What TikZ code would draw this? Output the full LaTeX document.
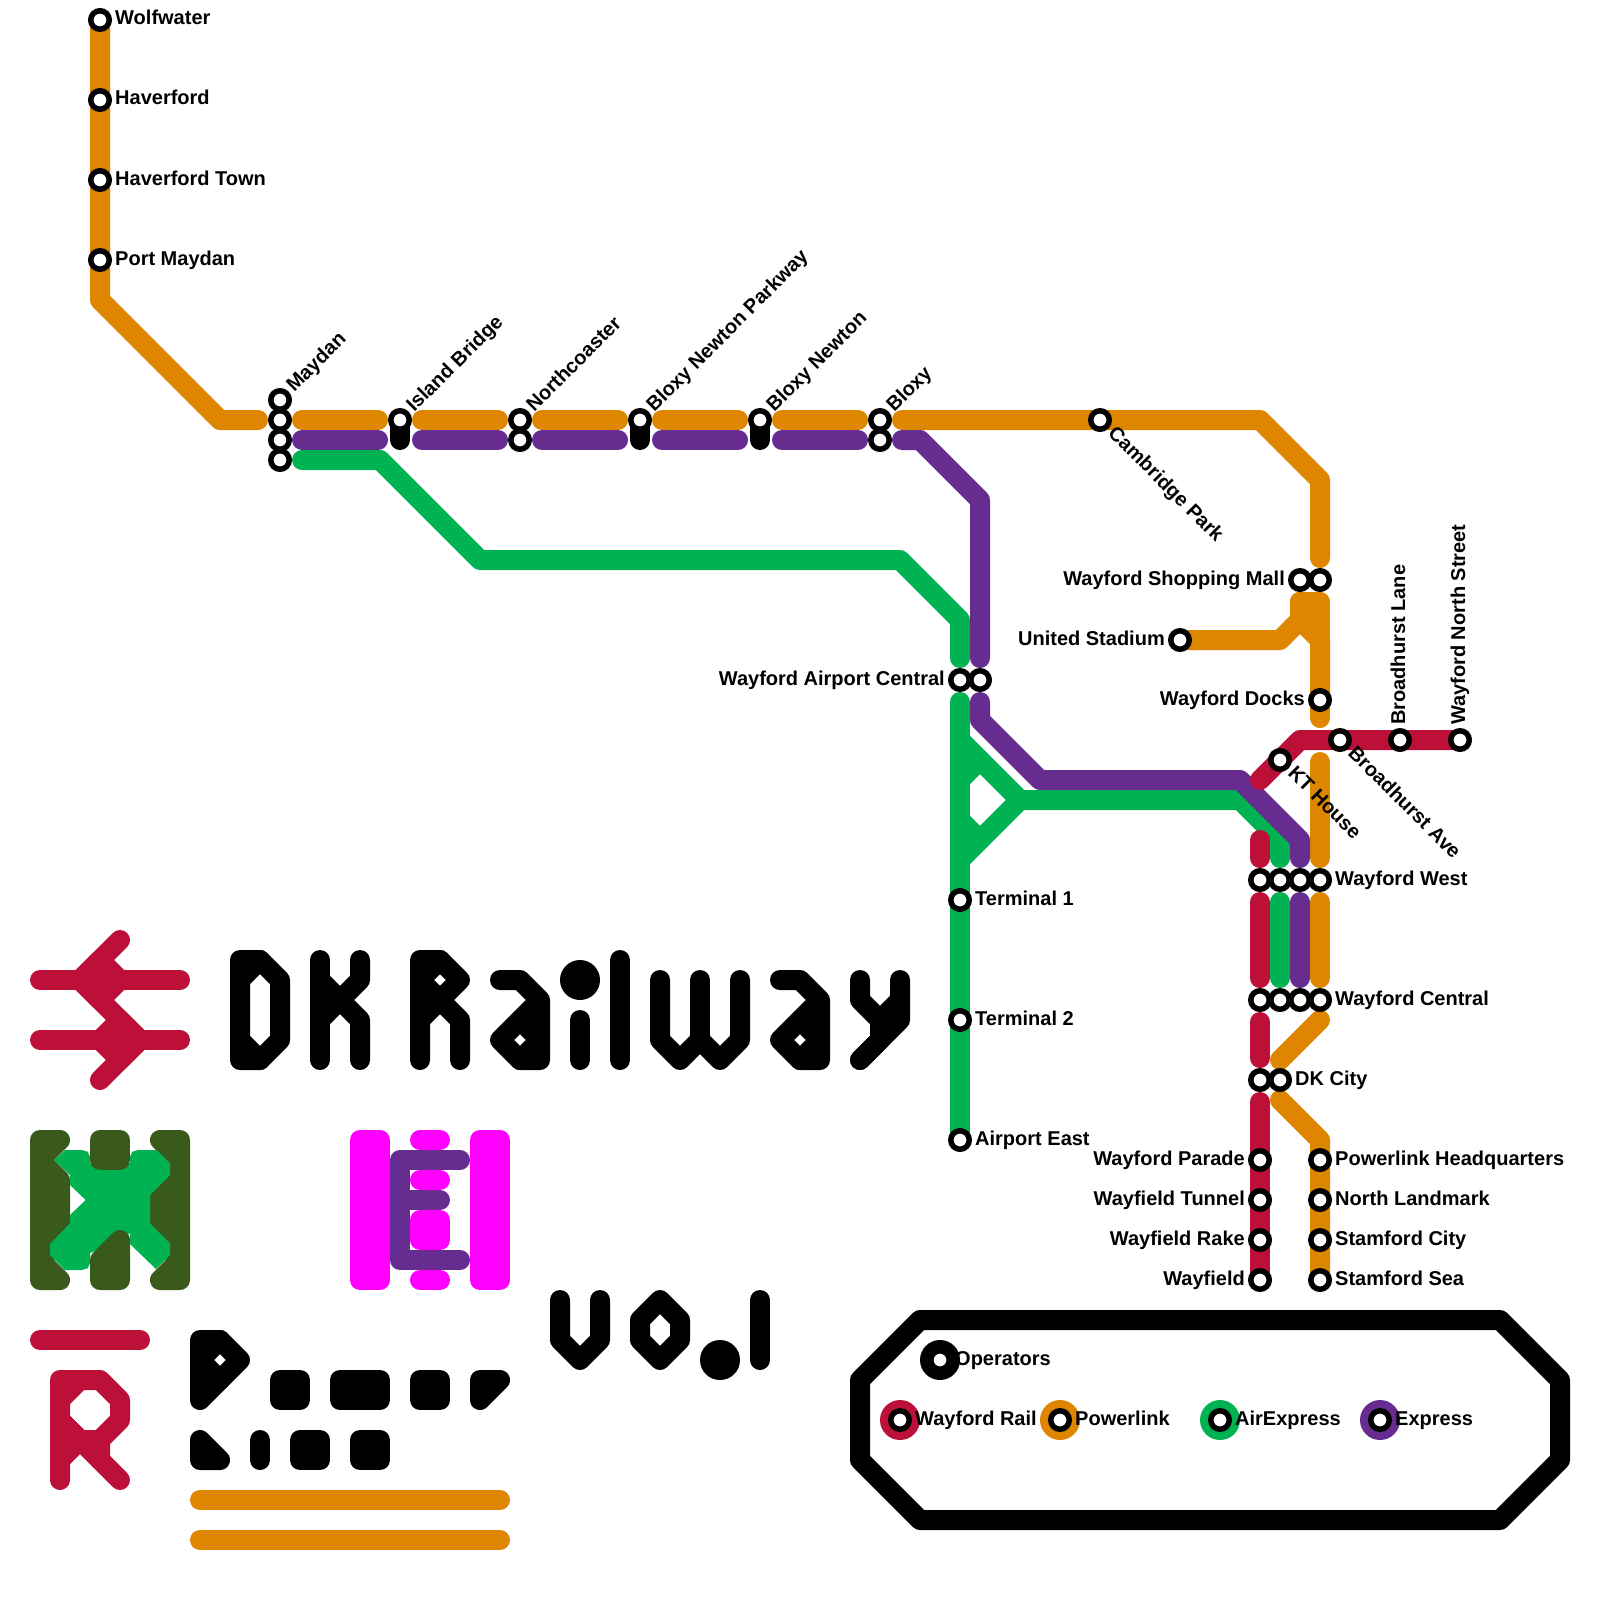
\documentclass[tikz,border=0pt]{standalone}
\usepackage{fontspec}
\setmainfont{Liberation Sans}
\usetikzlibrary{backgrounds}
\definecolor{rd}{HTML}{BD1038}
\definecolor{og}{HTML}{DF8600}
\definecolor{gn}{HTML}{00B251}
\definecolor{pu}{HTML}{662C90}
\definecolor{dg}{HTML}{3A5A1C}
\definecolor{mg}{HTML}{FF00FF}
\tikzset{
  x=20pt,y=-20pt,
  stn/.style={circle,draw=black,fill=white,line width=5.5pt,minimum size=18.5pt,inner sep=0pt,outer sep=0pt},
  txt/.style={font=\bfseries\fontsize{20}{24}\selectfont,inner sep=0pt,text=black},
  lr/.style={txt,anchor=base west,xshift=15pt,yshift=-5pt},
  ll/.style={txt,anchor=base east,xshift=-15pt,yshift=-5pt},
  lup/.style={txt,anchor=base west,rotate=45,xshift=15pt,yshift=-5pt},
  ldn/.style={txt,anchor=base west,rotate=-45,xshift=15pt,yshift=-5pt},
  lvt/.style={txt,anchor=base west,rotate=90,xshift=15pt,yshift=-5pt},
  ln/.style={line width=20pt,line cap=round,line join=round},
  sa/.style={shorten <=22pt},
  sb/.style={shorten >=22pt},
  sab/.style={shorten <=22pt,shorten >=22pt},
  legdot/.style={circle,fill=#1,minimum size=40pt,inner sep=0pt,outer sep=0pt},
}
\begin{document}
\begin{tikzpicture}
\useasboundingbox (0,0) rectangle (80,80);
% stations
\node[stn] (wolf) at (5,1) {};
\node[stn] (hav) at (5,5) {};
\node[stn] (havt) at (5,9) {};
\node[stn] (port) at (5,13) {};
\node[stn] (may1) at (14,20) {};
\node[stn] (may2) at (14,21) {};
\node[stn] (may3) at (14,22) {};
\node[stn] (may4) at (14,23) {};
\coordinate (isl2) at (20,22);
\coordinate (bnp2) at (32,22);
\coordinate (bn2) at (38,22);
\coordinate (cross) at (66,37);
\begin{scope}[on background layer]
\fill[white] (0,0) rectangle (80,80);
\draw[ln,black] (isl2) -- (20,21);
\draw[ln,black] (bnp2) -- (32,21);
\draw[ln,black] (bn2) -- (38,21);
\end{scope}
\node[stn] (isl) at (20,21) {};
\node[stn] (nor1) at (26,21) {};
\node[stn] (nor2) at (26,22) {};
\node[stn] (bnp) at (32,21) {};
\node[stn] (bn) at (38,21) {};
\node[stn] (blo1) at (44,21) {};
\node[stn] (blo2) at (44,22) {};
\node[stn] (cam) at (55,21) {};
\node[stn] (mall1) at (65,29) {};
\node[stn] (mall2) at (66,29) {};
\node[stn] (uni) at (59,32) {};
\node[stn] (air1) at (48,34) {};
\node[stn] (air2) at (49,34) {};
\node[stn] (dock) at (66,35) {};
\node[stn] (kt) at (64,38) {};
\node[stn] (bave) at (67,37) {};
\node[stn] (blan) at (70,37) {};
\node[stn] (wns) at (73,37) {};
\node[stn] (wa) at (63,44) {};
\node[stn] (wb) at (64,44) {};
\node[stn] (wc) at (65,44) {};
\node[stn] (wd) at (66,44) {};
\node[stn] (ca) at (63,50) {};
\node[stn] (cb) at (64,50) {};
\node[stn] (cc) at (65,50) {};
\node[stn] (cd) at (66,50) {};
\node[stn] (dka) at (63,54) {};
\node[stn] (dkb) at (64,54) {};
\node[stn] (ter1) at (48,45) {};
\node[stn] (ter2) at (48,51) {};
\node[stn] (aire) at (48,57) {};
\node[stn] (par) at (63,58) {};
\node[stn] (tun) at (63,60) {};
\node[stn] (rak) at (63,62) {};
\node[stn] (wfd) at (63,64) {};
\node[stn] (phq) at (66,58) {};
\node[stn] (nla) at (66,60) {};
\node[stn] (sci) at (66,62) {};
\node[stn] (sse) at (66,64) {};
% lines, behind the stations
\begin{scope}[on background layer]
% orange
\draw[ln,og,sb] (wolf.center) -- (hav.center) -- (havt.center) -- (port.center) -- (5,15) -- (11,21) -- (may2.center);
\draw[ln,og,sab] (may2.center) -- (isl.center);
\draw[ln,og,sab] (isl.center) -- (nor1.center);
\draw[ln,og,sab] (nor1.center) -- (bnp.center);
\draw[ln,og,sab] (bnp.center) -- (bn.center);
\draw[ln,og,sab] (bn.center) -- (blo1.center);
\draw[ln,og,sab] (blo1.center) -- (cam.center) -- (62,21) -- (63,21) -- (66,24) -- (mall2.center);
\draw[ln,og,sb] (uni.center) -- (64,32) -- (65,31) -- (mall1.center);
\draw[ln,og,sa] (mall1.center) -- (65,31) -- (66,32) -- (dock.center);
\draw[ln,og,sab] (mall2.center) -- (dock.center) -- (cross);
\fill[og] (65,30.1) rectangle (66,31);
\draw[ln,og] (65,30.1) -- (66,30.1);
\draw[ln,og,sab] (cross) -- (wd.center);
\draw[ln,og,sab] (wd.center) -- (cd.center);
\draw[ln,og] (66,51) -- (64,53);
\draw[ln,og] (64,55) -- (66,57) -- (phq.center) -- (nla.center) -- (sci.center) -- (sse.center);
% green
\draw[ln,gn,sab] (may4.center) -- (19,23) -- (24,28) -- (45,28) -- (48,31) -- (air1.center);
\draw[ln,gn,sa] (air1.center) -- (ter1.center) -- (ter2.center) -- (aire.center);
\draw[ln,gn] (48,37) -- (51,40) -- (48,43);
\draw[ln,gn] (48,39) -- (49,38);
\draw[ln,gn] (48,41) -- (49,42);
\draw[ln,gn,sb] (51,40) -- (62,40) -- (64,42) -- (wb.center);
\draw[ln,gn,sab] (wb.center) -- (cb.center);
% purple
\draw[ln,pu,sab] (may3.center) -- (isl2);
\draw[ln,pu,sab] (isl2) -- (nor2.center);
\draw[ln,pu,sab] (nor2.center) -- (bnp2);
\draw[ln,pu,sab] (bnp2) -- (bn2);
\draw[ln,pu,sab] (bn2) -- (blo2.center);
\draw[ln,pu,sab] (blo2.center) -- (46,22) -- (49,25) -- (air2.center);
\draw[ln,pu,sab] (air2.center) -- (49,36) -- (52,39) -- (62,39) -- (65,42) -- (wc.center);
\draw[ln,pu,sab] (wc.center) -- (cc.center);
% red
\draw[ln,rd] (63,39) -- (kt.center) -- (65,37) -- (bave.center) -- (blan.center) -- (wns.center);
\draw[ln,rd,sb] (63,42) -- (wa.center);
\draw[ln,rd,sab] (wa.center) -- (ca.center);
\draw[ln,rd,sab] (ca.center) -- (dka.center);
\draw[ln,rd,sa] (dka.center) -- (par.center) -- (tun.center) -- (rak.center) -- (wfd.center);
\end{scope}
% labels
\node[lr] at (wolf) {Wolfwater};
\node[lr] at (hav) {Haverford};
\node[lr] at (havt) {Haverford Town};
\node[lr] at (port) {Port Maydan};
\node[lup] at (may1) {Maydan};
\node[lup] at (isl) {Island Bridge};
\node[lup] at (nor1) {Northcoaster};
\node[lup] at (bnp) {Bloxy Newton Parkway};
\node[lup] at (bn) {Bloxy Newton};
\node[lup] at (blo1) {Bloxy};
\node[ldn] at (cam) {Cambridge Park};
\node[ll] at (mall1) {Wayford Shopping Mall};
\node[ll] at (uni) {United Stadium};
\node[ll] at (air1) {Wayford Airport Central};
\node[ll] at (dock) {Wayford Docks};
\node[ldn] at (kt) {KT House};
\node[ldn] at (bave) {Broadhurst Ave};
\node[lvt] at (blan) {Broadhurst Lane};
\node[lvt] at (wns) {Wayford North Street};
\node[lr] at (wd) {Wayford West};
\node[lr] at (cd) {Wayford Central};
\node[lr] at (dkb) {DK City};
\node[lr] at (ter1) {Terminal 1};
\node[lr] at (ter2) {Terminal 2};
\node[lr] at (aire) {Airport East};
\node[ll] at (par) {Wayford Parade};
\node[ll] at (tun) {Wayfield Tunnel};
\node[ll] at (rak) {Wayfield Rake};
\node[ll] at (wfd) {Wayfield};
\node[lr] at (phq) {Powerlink Headquarters};
\node[lr] at (nla) {North Landmark};
\node[lr] at (sci) {Stamford City};
\node[lr] at (sse) {Stamford Sea};
% red double-arrow logo
\draw[ln,rd] (2,49) -- (9,49);
\draw[ln,rd] (2,52) -- (9,52);
\draw[ln,rd] (6,47) -- (4,49) -- (7,52) -- (5,54);
\draw[ln,rd,fill=rd] (4,49) -- (5,48) -- (6,49) -- (5,50) -- cycle;
\draw[ln,rd,fill=rd] (7,52) -- (6,53) -- (5,52) -- (6,51) -- cycle;
% X logo
\draw[ln,dg] (3,57) -- (2,57) -- (2,64) -- (3,64) -- (2,63) -- (3,62) -- (3,59) -- (2,58) -- cycle;
\draw[ln,dg] (8,57) -- (9,57) -- (9,64) -- (8,64) -- (9,63) -- (8,62) -- (8,59) -- (9,58) -- cycle;
\begin{scope}[shift={(1,56)},x=1pt/3,y=-1pt/3]
\fill[gn] (103,120) -- (135,90) -- (185,90) -- (203,95) -- (210,110) -- (210,130) -- (330,130) -- (330,110) -- (337,95) -- (355,90) -- (410,90) -- (450,130) -- (450,165) -- (390,225) -- (390,310) -- (450,370) -- (450,405) -- (408,447) -- (330,372) -- (330,340) -- (210,400) -- (210,430) -- (203,445) -- (185,450) -- (135,450) -- (90,405) -- (90,372) -- (150,310) -- (150,285) -- (197,240) -- (150,195) -- (150,165) -- cycle;
\end{scope}
\draw[ln,dg,fill=dg] (5,57) -- (6,57) -- (6,58) -- (5,58) -- cycle;
\draw[ln,dg,fill=dg] (6,62) -- (6,64) -- (5,64) -- (5,63) -- cycle;
% E logo
\draw[ln,mg,fill=mg] (18,57) -- (19,57) -- (19,64) -- (18,64) -- cycle;
\draw[ln,mg,fill=mg] (24,57) -- (25,57) -- (25,64) -- (24,64) -- cycle;
\draw[ln,mg] (21,57) -- (22,57);
\draw[ln,mg] (21,59) -- (22,59);
\draw[ln,mg,fill=mg] (21,61) -- (22,61) -- (22,62) -- (21,62) -- cycle;
\draw[ln,mg] (21,64) -- (22,64);
\draw[ln,pu] (23,58) -- (20,58) -- (20,63) -- (23,63);
\draw[ln,pu] (20,60) -- (22,60);
% R logo
\draw[ln,rd] (2,67) -- (7,67);
\draw[ln,rd] (3,74) -- (3,69) -- (5,69) -- (6,70) -- (6,71) -- (5,72) -- (5,73);
\draw[ln,rd] (6,74) -- (3,71);
\draw[ln,rd] (3,70) -- (4,69);
\draw[ln,rd] (3,71) -- (4,72) -- (5,72);
\draw[ln,rd] (3,73) -- (4,72);
% black pixel word by the R logo
\draw[ln] (10,70) -- (10,67) -- (11,67) -- (12,68) -- cycle;
\draw[ln] (10,68) -- (11,67);
\draw[ln] (10,68) -- (11,69);
\draw[ln,fill] (14,69) -- (15,69) -- (15,70) -- (14,70) -- cycle;
\draw[ln,fill] (17,69) -- (19,69) -- (19,70) -- (17,70) -- cycle;
\draw[ln,fill] (21,69) -- (22,69) -- (22,70) -- (21,70) -- cycle;
\draw[ln,fill] (24,69) -- (25,69) -- (24,70) -- cycle;
\draw[ln,fill] (10,72) -- (11,73) -- (10,73) -- cycle;
\draw[ln] (13,72) -- (13,73);
\draw[ln,fill] (15,72) -- (16,72) -- (16,73) -- (15,73) -- cycle;
\draw[ln,fill] (18,72) -- (19,72) -- (19,73) -- (18,73) -- cycle;
\draw[ln,og] (10,75) -- (25,75);
\draw[ln,og] (10,77) -- (25,77);
% title: DK Railway
\draw[ln] (12,48) -- (13,48) -- (14,49) -- (14,52) -- (13,53) -- (12,53) -- cycle;
\draw[ln] (12,49) -- (13,48);
\draw[ln] (12,52) -- (13,53);
\draw[ln] (16,48) -- (16,53);
\draw[ln] (18,48) -- (18,49) -- (16,51);
\draw[ln] (16,49) -- (18,51) -- (18,53);
\draw[ln] (21,53) -- (21,48) -- (22,48) -- (23,49) -- (22,50) -- (23,51) -- (23,53);
\draw[ln] (21,49) -- (22,48);
\draw[ln] (21,49) -- (22,50) -- (21,51);
\draw[ln] (25,49) -- (26,49) -- (27,50) -- (27,53) -- (26,53) -- (25,52) -- (27,50);
\draw[ln] (26,51) -- (27,52) -- (26,53);
\node[circle,fill=black,minimum size=40pt,inner sep=0pt] (idot) at (29,49) {};
\draw[ln] (29,51) -- (29,53);
\draw[ln] (31,48) -- (31,53);
\draw[ln] (33,49) -- (33,52) -- (34,53) -- (35,52) -- (36,53) -- (37,52) -- (37,49);
\draw[ln] (35,49) -- (35,52);
\draw[ln] (39,49) -- (40,49) -- (41,50) -- (41,53) -- (40,53) -- (39,52) -- (41,50);
\draw[ln] (40,51) -- (41,52) -- (40,53);
\draw[ln] (43,49) -- (43,50) -- (44,51) -- (45,50);
\draw[ln] (45,49) -- (45,51) -- (43,53);
\draw[ln] (44,51) -- (44,52) -- (43,53);
% v0.1
\draw[ln] (28,65) -- (28,67) -- (29,68) -- (30,67) -- (30,65);
\draw[ln] (33,65) -- (34,66) -- (34,67) -- (33,68) -- (32,67) -- (32,66) -- cycle;
\node[circle,fill=black,minimum size=40pt,inner sep=0pt] (vdot) at (36,68) {};
\draw[ln] (38,65) -- (38,68);
% legend
\draw[ln,black] (46,66) -- (75,66) -- (78,69) -- (78,73) -- (75,76) -- (46,76) -- (43,73) -- (43,69) -- cycle;
\node[legdot=black] (lop) at (47,68) {};
\node[legdot=rd] (lwr) at (45,71) {};
\node[legdot=og] (lpl) at (53,71) {};
\node[legdot=gn] (lae) at (61,71) {};
\node[legdot=pu] (lex) at (69,71) {};
\node[stn] (lop2) at (47,68) {};
\node[stn] (lwr2) at (45,71) {};
\node[stn] (lpl2) at (53,71) {};
\node[stn] (lae2) at (61,71) {};
\node[stn] (lex2) at (69,71) {};
\node[lr] at (lop) {Operators};
\node[lr] at (lwr) {Wayford Rail};
\node[lr] at (lpl) {Powerlink};
\node[lr] at (lae) {AirExpress};
\node[lr] at (lex) {Express};
\end{tikzpicture}
\end{document}
